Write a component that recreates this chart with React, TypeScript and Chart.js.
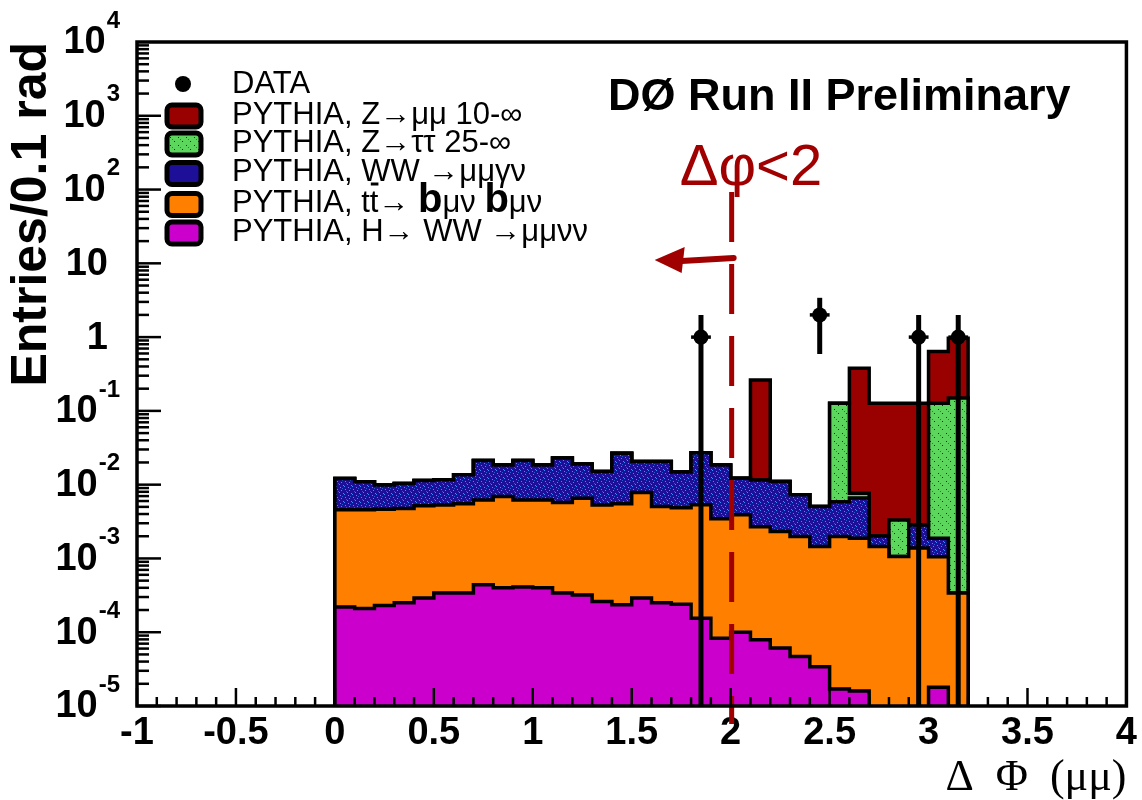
import React, { useEffect, useRef } from 'react';
import { Chart, registerables } from 'chart.js';

Chart.register(...registerables);

// ---------- data ----------
const binLow = [0.0, 0.1, 0.2, 0.3, 0.4, 0.5, 0.6, 0.7, 0.8, 0.9, 1.0, 1.1, 1.2, 1.3, 1.4, 1.5,
  1.6, 1.7, 1.8, 1.9, 2.0, 2.1, 2.2, 2.3, 2.4, 2.5, 2.6, 2.7, 2.8, 2.9, 3.0, 3.1];
const BIN_WIDTH = 0.1;

// PYTHIA, H -> WW -> mu mu nu nu
const higgsWW = [2.2e-4, 2.1e-4, 2.3e-4, 2.5e-4, 2.9e-4, 3.4e-4, 3.4e-4, 4.4e-4, 4.0e-4, 4.1e-4, 4.0e-4,
  3.4e-4, 3.2e-4, 2.6e-4, 2.35e-4, 2.9e-4, 2.5e-4, 2.4e-4, 1.55e-4, 8.3e-5, 1.0e-4, 7.9e-5, 6.1e-5,
  4.7e-5, 3.4e-5, 1.7e-5, 1.6e-5, 0, 0, 0, 1.8e-5, 0];
// PYTHIA, ttbar
const ttbar = [4.34e-3, 4.35e-3, 4.43e-3, 4.5e-3, 4.87e-3, 4.98e-3, 5.16e-3, 5.78e-3, 6.5e-3, 5.81e-3,
  5.82e-3, 5.37e-3, 6.24e-3, 5.06e-3, 5.27e-3, 7.53e-3, 4.8e-3, 4.61e-3, 5.17e-3, 3.36e-3, 3.8e-3,
  2.62e-3, 2.26e-3, 1.93e-3, 1.42e-3, 1.96e-3, 1.86e-3, 1.45e-3, 1.06e-3, 1.38e-3, 1.04e-3, 3.4e-4];
// PYTHIA, WW -> mu mu nu nu
const wwMuMu = [7.6e-3, 6.4e-3, 5.2e-3, 5.6e-3, 6.2e-3, 6.3e-3, 8.1e-3, 1.5e-2, 1.16e-2, 1.5e-2, 1.23e-2,
  1.72e-2, 1.25e-2, 9.8e-3, 2.12e-2, 1.28e-2, 1.56e-2, 1.0e-2, 2.17e-2, 1.51e-2, 8.3e-3, 8.9e-3, 8.7e-3,
  5.3e-3, 3.6e-3, 3.9e-3, 4.7e-3, 5.7e-4, 0, 1.47e-3, 8.2e-4, 0];
// PYTHIA, Z -> tau tau 25-inf
const zTauTau = [0, 0, 0, 0, 0, 0, 0, 0, 0, 0, 0, 0, 0, 0, 0, 0, 0, 0, 0, 0, 0, 0, 0, 0, 0,
  0.121, 1.1e-3, 0, 2.27e-3, 0, 0.125, 0.149];
// PYTHIA, Z -> mu mu 10-inf
const zMuMu = [0, 0, 0, 0, 0, 0, 0, 0, 0, 0, 0, 0, 0, 0, 0, 0, 0, 0, 0, 0, 0,
  0.251, 0, 0, 0, 0, 0.371, 0.125, 0.124, 0.124, 0.51, 0.817];

// DATA
const dataX = [1.85, 2.45, 2.95, 3.15];
const dataY = [1, 2, 1, 1];
const dataErr = [1, 1.41, 1, 1];

// axis ticks
const xTickValues = [-1, -0.5, 0, 0.5, 1, 1.5, 2, 2.5, 3, 3.5, 4];
const xTickLabels = ['-1', '-0.5', '0', '0.5', '1', '1.5', '2', '2.5', '3', '3.5', '4'];
const yTickValues = [1e4, 1e3, 1e2, 10, 1, 0.1, 0.01, 1e-3, 1e-4, 1e-5];
const yTickBase = ['10', '10', '10', '10', '1', '10', '10', '10', '10', '10'];
const yTickExp = ['4', '3', '2', '', '', '-1', '-2', '-3', '-4', '-5'];

const legendLabels = ['DATA', 'PYTHIA, Z\u2192\u03bc\u03bc 10-\u221e', 'PYTHIA, Z\u2192\u03c4\u03c4 25-\u221e',
  'PYTHIA, WW \u2192\u03bc\u03bc\u03b3\u03bd', 'PYTHIA, tt\u0304\u2192 b\u03bc\u03bd b\u03bc\u03bd', 'PYTHIA, H\u2192 WW \u2192\u03bc\u03bc\u03bd\u03bd'];
const cutValue = 2.0;
const cutLabel = '\u0394\u03c6<2';
const experimentLabel = 'D\u00d8 Run II Preliminary';
const xTitle = '\u0394  \u03a6  (\u03bc\u03bc)';
const yTitle = 'Entries/0.1 rad';

const FLOOR = 1e-9;
const SANS = 'Liberation Sans';

function speckle(base: string, spots: [string, number, number][]) {
  const c = document.createElement('canvas');
  c.width = 8; c.height = 8;
  const g = c.getContext('2d')!;
  g.fillStyle = base; g.fillRect(0, 0, 8, 8);
  spots.forEach(([col, x, y]) => { g.fillStyle = col; g.fillRect(x, y, 1, 1); });
  return g.createPattern(c, 'repeat')!;
}

export default function App() {
  const ref = useRef<HTMLCanvasElement>(null);

  useEffect(() => {
    const canvas = ref.current!;
    const ctx = canvas.getContext('2d')!;

    const blueFill = speckle('#1d0f98', [['#3a8cff', 1, 1], ['#3a8cff', 5, 2], ['#3a8cff', 3, 4], ['#3a8cff', 7, 5],
      ['#3a8cff', 0, 6], ['#3a8cff', 4, 7], ['#2a5ad0', 6, 0], ['#2a5ad0', 2, 3]]);
    const greenFill = speckle('#5cd65c', [['#1a1a1a', 2, 1], ['#1a1a1a', 6, 5], ['#b04040', 4, 3]]);

    const stacks = [
      { values: higgsWW, fill: '#cc00cc' as any },
      { values: ttbar, fill: '#ff7f00' as any },
      { values: wwMuMu, fill: blueFill as any },
      { values: zTauTau, fill: greenFill as any },
      { values: zMuMu, fill: '#990000' as any },
    ];
    const legendFills = ['#990000', greenFill, '#1d0f98', '#ff7f00', '#cc00cc'];

    const running = binLow.map(() => 0);
    const stackDatasets = stacks.map((s, k) => {
      const cum = s.values.map((v, b) => (running[b] += v));
      const pts = [{ x: binLow[0], y: FLOOR },
        ...binLow.map((x, b) => ({ x, y: cum[b] > 0 ? cum[b] : FLOOR })),
        { x: binLow[binLow.length - 1] + BIN_WIDTH, y: FLOOR }];
      return {
        type: 'line',
        data: pts,
        stepped: 'before',
        borderColor: '#000',
        borderWidth: 3.5,
        backgroundColor: s.fill,
        fill: 'start',
        pointRadius: 0,
        order: k + 1,
      };
    });

    const dataDataset = {
      type: 'line',
      data: dataX.map((x, i) => ({ x, y: dataY[i] })),
      showLine: false,
      pointRadius: 7.5,
      pointBackgroundColor: '#000',
      pointBorderColor: '#000',
      pointBorderWidth: 0,
      order: 0,
    };

    const overlay = {
      id: 'overlay',
      afterDatasetsDraw(chart: any) {
        const c = chart.ctx;
        const xs = chart.scales.x, ys = chart.scales.y;
        const area = chart.chartArea;
        c.save();
        // error bars
        c.strokeStyle = '#000';
        dataX.forEach((x, i) => {
          const px = xs.getPixelForValue(x);
          const py = ys.getPixelForValue(dataY[i]);
          const top = ys.getPixelForValue(dataY[i] + dataErr[i]);
          const lo = dataY[i] - dataErr[i];
          const bottom = lo > 0 ? ys.getPixelForValue(lo) : area.bottom;
          c.lineWidth = 5;
          c.beginPath(); c.moveTo(px, top); c.lineTo(px, bottom); c.stroke();
          c.lineWidth = 3.5;
          c.beginPath();
          c.moveTo(xs.getPixelForValue(x - BIN_WIDTH / 2), py);
          c.lineTo(xs.getPixelForValue(x + BIN_WIDTH / 2), py);
          c.stroke();
        });
        // cut annotation
        const cx = xs.getPixelForValue(cutValue) + 1;
        c.strokeStyle = '#a00000';
        c.fillStyle = '#a00000';
        c.lineWidth = 5;
        c.setLineDash([50, 22]);
        c.beginPath(); c.moveTo(cx, area.top + 150); c.lineTo(cx, area.bottom + 18); c.stroke();
        c.setLineDash([]);
        c.lineWidth = 6;
        c.lineCap = 'round';
        c.beginPath(); c.moveTo(cx + 2, area.top + 216); c.lineTo(cx - 50, area.top + 219); c.stroke();
        c.beginPath();
        c.moveTo(cx - 77, area.top + 218);
        c.lineTo(cx - 47, area.top + 205);
        c.lineTo(cx - 50, area.top + 231);
        c.closePath(); c.fill();
        c.font = `58px "${SANS}"`;
        c.textBaseline = 'alphabetic';
        c.textAlign = 'left';
        c.fillText(cutLabel, cx - 52, area.top + 143);
        c.restore();
      },
      afterDraw(chart: any) {
        const c = chart.ctx;
        const xs = chart.scales.x, ys = chart.scales.y;
        const a = chart.chartArea;
        c.save();
        // inside ticks
        c.strokeStyle = '#000';
        c.lineWidth = 2.5;
        for (let k = -10; k <= 40; k++) {
          const v = k / 10;
          const px = xs.getPixelForValue(v);
          const len = k % 5 === 0 ? 18 : 9;
          c.beginPath(); c.moveTo(px, a.bottom); c.lineTo(px, a.bottom - len); c.stroke();
        }
        for (let d = -5; d <= 3; d++) {
          for (let m = 1; m <= 9; m++) {
            const py = ys.getPixelForValue(m * Math.pow(10, d));
            const len = m === 1 ? 24 : 12;
            c.beginPath(); c.moveTo(a.left, py); c.lineTo(a.left + len, py); c.stroke();
          }
        }
        // frame
        c.lineWidth = 3.5;
        c.strokeRect(a.left, a.top, a.right - a.left, a.bottom - a.top);

        // y labels
        c.fillStyle = '#000';
        c.textBaseline = 'middle';
        yTickValues.forEach((v, i) => {
          const py = ys.getPixelForValue(v);
          c.font = `bold 38px "${SANS}"`;
          const bw = c.measureText(yTickBase[i]).width;
          if (yTickExp[i]) {
            c.font = `bold 24px "${SANS}"`;
            const ew = c.measureText(yTickExp[i]).width;
            const right = a.left - 17;
            c.textAlign = 'left';
            c.fillText(yTickExp[i], right - ew, py - 21);
            c.font = `bold 38px "${SANS}"`;
            c.fillText(yTickBase[i], right - ew - bw - 1, py + 1);
          } else {
            c.font = `bold 38px "${SANS}"`;
            c.textAlign = 'right';
            c.fillText(yTickBase[i], a.left - 29, py + 1);
          }
        });

        // legend
        const lx = a.left + 28;
        const tx = a.left + 95;
        const rows = [84, 115, 143, 172.5, 203.5, 232];
        c.beginPath(); c.arc(a.left + 46, rows[0], 8, 0, Math.PI * 2); c.fill();
        for (let i = 1; i < rows.length; i++) {
          const by = rows[i] + 1;
          c.beginPath();
          (c as any).roundRect(lx + 2, by - 11, 34, 22, 5);
          c.fillStyle = legendFills[i - 1];
          c.fill();
          c.lineWidth = 5; c.strokeStyle = '#000'; c.stroke();
        }
        c.fillStyle = '#000';
        c.textAlign = 'left';
        c.textBaseline = 'middle';
        const legFont = `31px "${SANS}"`;
        c.font = legFont;
        legendLabels.forEach((t, i) => {
          if (i === 4) {
            // tt-bar row drawn piecewise (bar over second t, bold b)
            let x = tx;
            const y = rows[i];
            const parts = t.replace('\u0304', '').split(/(b)/);
            let tCount = 0;
            parts.forEach((p) => {
              if (p === 'b') {
                c.font = `bold 40px "${SANS}"`;
                c.fillText('b', x, y - 3);
                x += c.measureText('b').width;
                c.font = legFont;
              } else {
                for (const ch of p) {
                  c.fillText(ch, x, y);
                  const w = c.measureText(ch).width;
                  if (ch === 't') {
                    tCount++;
                    if (tCount === 2) c.fillRect(x + 1, y - 21, w - 1, 3);
                  }
                  x += w;
                }
              }
            });
          } else {
            c.fillText(t, tx, rows[i]);
          }
        });

        // experiment label
        c.font = `bold 45px "${SANS}"`;
        c.textBaseline = 'alphabetic';
        c.fillText(experimentLabel, 608, 110);
        c.restore();
      },
    };

    const chart = new Chart(ctx, {
      type: 'line',
      data: { datasets: [dataDataset, ...stackDatasets] as any },
      options: {
        responsive: false,
        animation: false,
        events: [],
        layout: { padding: { left: 0, right: 14, top: 42, bottom: 0 } },
        plugins: { legend: { display: false }, tooltip: { enabled: false } },
        scales: {
          x: {
            type: 'linear',
            min: -1,
            max: 4,
            afterBuildTicks: (scale: any) => { scale.ticks = xTickValues.map((v) => ({ value: v })); },
            afterFit: (scale: any) => { scale.height = 94; },
            grid: { display: false, drawTicks: false },
            border: { display: false },
            ticks: {
              autoSkip: false,
              maxRotation: 0,
              padding: 5,
              color: '#000',
              font: { family: SANS, size: 38, weight: 'bold' },
              callback: (v: any) => {
                const i = xTickValues.findIndex((t) => Math.abs(t - v) < 1e-9);
                return i >= 0 ? xTickLabels[i] : '';
              },
            },
            title: {
              display: true,
              text: xTitle,
              align: 'end',
              color: '#000',
              padding: { top: 0, bottom: 0 },
              font: { family: 'Liberation Serif', size: 44, lineHeight: 1.0 },
            },
          },
          y: {
            type: 'logarithmic',
            min: 1e-5,
            max: 1e4,
            afterFit: (scale: any) => { scale.width = 137; },
            grid: { display: false, drawTicks: false },
            border: { display: false },
            ticks: { display: false },
            title: {
              display: true,
              text: yTitle,
              align: 'end',
              color: '#000',
              padding: { top: 2, bottom: 0 },
              font: { family: SANS, size: 50, weight: 'bold' },
            },
          },
        },
      } as any,
      plugins: [overlay],
    } as any);

    return () => chart.destroy();
  }, []);

  return (
    <div style={{ position: 'absolute', left: 0, top: 0, width: 1142, height: 800, background: '#fff' }}>
      <canvas ref={ref} width={1142} height={800} style={{ display: 'block' }} />
    </div>
  );
}
